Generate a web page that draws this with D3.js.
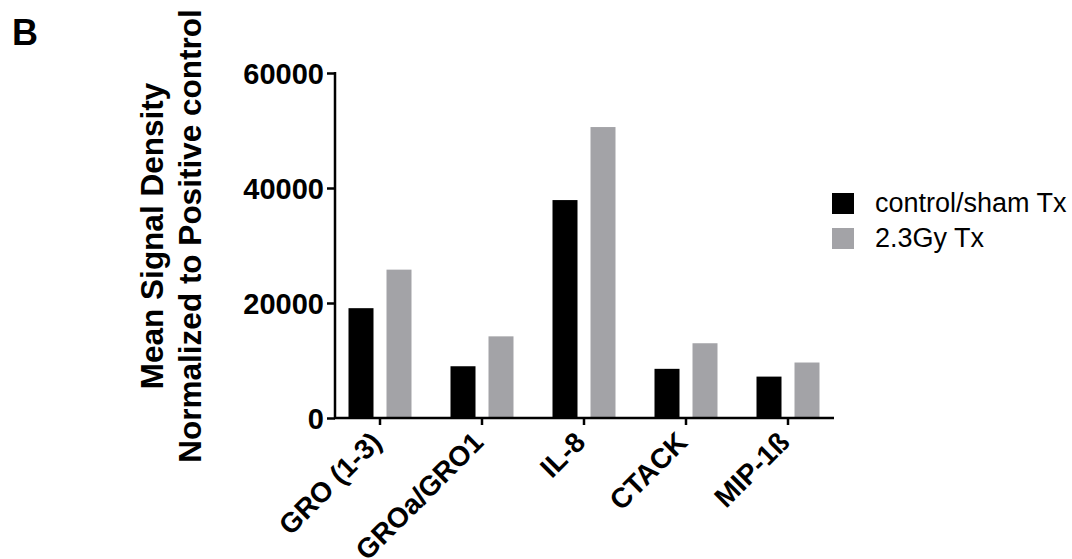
<!DOCTYPE html>
<html>
<head>
<meta charset="utf-8">
<script src="https://cdn.jsdelivr.net/npm/d3@7/dist/d3.min.js"></script>
<style>
  html, body { margin: 0; padding: 0; background: #fff; }
  svg { display: block; }
  text { font-family: "Liberation Sans", Arial, sans-serif; }
</style>
</head>
<body>
<svg id="chart" width="1072" height="559"></svg>
<script>
const categories = ["GRO (1-3)", "GROa/GRO1", "IL-8", "CTACK", "MIP-1ß"];
const seriesNames = ["control/sham Tx", "2.3Gy Tx"];
const controlValues = [19100, 9000, 37900, 8550, 7200];
const irradiatedValues = [25800, 14200, 50600, 13000, 9650];
const yTicks = [0, 20000, 40000, 60000];
const colors = ["#000000", "#a3a3a7"];

const svg = d3.select("#chart");

const plotLeft = 335, plotRight = 834, plotBottom = 418, plotTop = 73;

const x = d3.scaleBand().domain(categories).range([329, 839]);
const y = d3.scaleLinear().domain([0, 60000]).range([plotBottom, plotTop]);

const barW = 25;
const offsets = [-31.5, 6.5];
const series = [controlValues, irradiatedValues];

// bars
series.forEach((vals, si) => {
  svg.append("g").selectAll("rect")
    .data(categories.map((c, i) => ({ c, v: vals[i] })))
    .join("rect")
    .attr("x", d => x(d.c) + x.bandwidth() / 2 + offsets[si])
    .attr("y", d => y(d.v))
    .attr("width", barW)
    .attr("height", d => plotBottom - y(d.v))
    .attr("fill", colors[si]);
});

// y axis
const yAxis = svg.append("g")
  .attr("transform", `translate(${plotLeft},0)`)
  .call(d3.axisLeft(y).tickValues(yTicks).tickFormat(d3.format("d")).tickSize(8).tickPadding(3).tickSizeOuter(0));
yAxis.select(".domain").attr("stroke-width", 2.5).attr("d", `M0,${plotTop - 1}V${plotBottom + 1}`);
yAxis.selectAll(".tick line").attr("stroke-width", 2.5);
yAxis.selectAll(".tick text")
  .attr("font-size", 29).attr("font-weight", "bold").attr("fill", "#000")
  .attr("font-family", "'Liberation Sans', Arial, sans-serif")
  .attr("dy", "0.36em");

// x axis
const xAxis = svg.append("g")
  .attr("transform", `translate(0,${plotBottom})`)
  .call(d3.axisBottom(x).tickSize(7).tickSizeOuter(0).tickFormat(""));
xAxis.select(".domain").attr("stroke-width", 2.5).attr("d", `M${plotLeft - 1},0H${plotRight}`);
xAxis.selectAll(".tick line").attr("stroke-width", 2.5);

// category labels rotated
svg.append("g").selectAll("text")
  .data(categories)
  .join("text")
  .attr("transform", d => `translate(${x(d) + x.bandwidth() / 2 + 3},${plotBottom + 26}) rotate(-45)`)
  .attr("text-anchor", "end")
  .attr("font-size", 28)
  .attr("font-weight", "bold")
  .attr("fill", "#000")
  .text(d => d);

// y axis title
const yTitle = svg.append("text")
  .attr("transform", "translate(0,236) rotate(-90)")
  .attr("text-anchor", "middle")
  .attr("font-size", 31.5)
  .attr("font-weight", "bold")
  .attr("fill", "#000");
yTitle.append("tspan").attr("x", 0).attr("y", 163).text("Mean Signal Density");
yTitle.append("tspan").attr("x", 0).attr("y", 201).text("Normalized to Positive control");

// panel letter
svg.append("text")
  .attr("x", 12).attr("y", 45)
  .attr("font-family", "'Open Sans', sans-serif")
  .attr("font-size", 36).attr("font-weight", "bold")
  .attr("fill", "#000")
  .text("B");

// legend
const legend = svg.append("g");
seriesNames.forEach((name, i) => {
  const ly = 193 + i * 35;
  legend.append("rect")
    .attr("x", 832).attr("y", ly).attr("width", 22).attr("height", 21)
    .attr("fill", colors[i]);
  legend.append("text")
    .attr("x", 875).attr("y", ly + 19)
    .attr("font-size", 27)
    .attr("fill", "#000")
    .text(name);
});
</script>
</body>
</html>
